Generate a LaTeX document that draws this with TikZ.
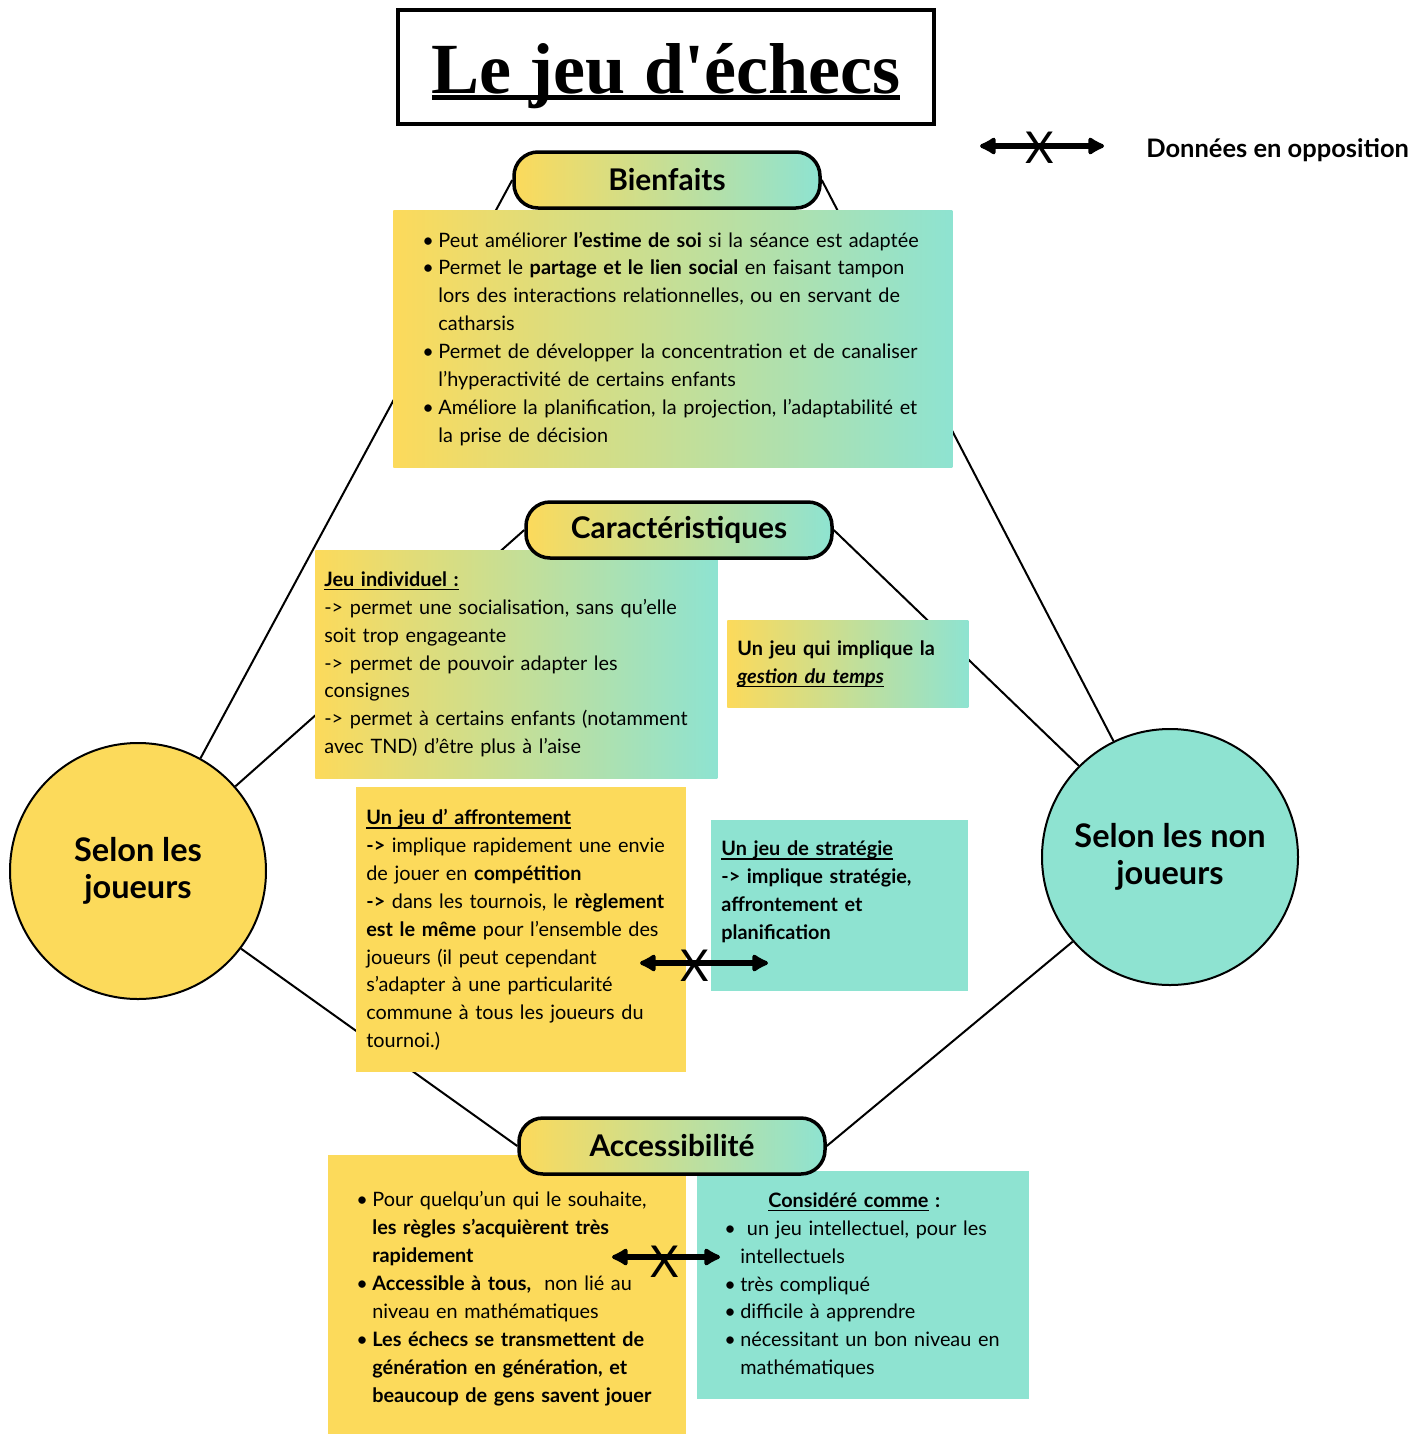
\documentclass[tikz,border=0pt]{standalone}
\usepackage{fontspec}
\setmainfont{Lato}
\newfontfamily\titrefonte{Liberation Serif}
\usetikzlibrary{arrows.meta,backgrounds}

\definecolor{jaune}{HTML}{FCDA5B}
\definecolor{turq}{HTML}{8EE3D1}

% 1 unite = 1 pixel de l'image
\newlength\pix
\setlength\pix{0.02cm}

\newsavebox\boitesoul
\newcommand{\trait}[3]{\sbox\boitesoul{#3}\rlap{\rule[\dimexpr-#1-#2\relax]{\wd\boitesoul}{#2}}\usebox\boitesoul}
\newcommand{\souligne}[1]{\trait{1.6pt}{.8pt}{#1}}
\newcommand{\puce}{\makebox[16\pix][l]{\textbullet}}
\newcommand{\suite}{\hspace*{16\pix}}

\tikzset{
  lien/.style={line width=2\pix},
  pilule/.style={draw, line width=3.5\pix, rounded corners=24\pix,
    minimum width=306\pix, minimum height=56\pix, inner sep=0pt,
    left color=jaune, right color=turq,
    font=\fontsize{17}{19}\selectfont\bfseries},
  bloc/.style={anchor=north west, inner ysep=0pt, align=left,
    font=\fontsize{11.3}{15.9}\selectfont},
  degrade/.style={left color=jaune, right color=turq},
  rond/.style={circle, draw, line width=2\pix, minimum size=256\pix,
    align=center, font=\fontsize{18.5}{21}\selectfont\bfseries},
  oppose/.style={line width=2.9pt,
    {Latex[length=11pt,width=12pt,round]}-{Latex[length=11pt,width=12pt,round]}},
  croix/.style={font=\fontsize{25}{25}\selectfont, inner sep=0pt}
}

\begin{document}
\begin{tikzpicture}[x=0.02cm, y=-0.02cm]
\useasboundingbox (0,0) rectangle (1427,1434);

% titre et legende
\node[draw, line width=3.5\pix, minimum width=536\pix, minimum height=114\pix, inner sep=0pt,
  text height=52\pix, text depth=0pt] (titre) at (666,67)
  {\titrefonte\bfseries\fontsize{41}{41}\selectfont\trait{1.2pt}{3pt}{Le jeu d'échecs}};

\coordinate (lg1) at (980,146);
\coordinate (lg2) at (1104,146);
\draw[oppose] (lg1) -- (lg2) node[croix, pos=.48, yshift=-2\pix] (lgx) {X};
\node[anchor=west, inner sep=0pt, font=\fontsize{14.5}{16}\selectfont\bfseries] (legende) at (1146,150) {Données en opposition};

% les deux points de vue
\node[rond, fill=jaune] (joueurs) at (138,871) {Selon les\\joueurs};
\node[rond, fill=turq] (nonjoueurs) at (1170,857) {Selon les non\\joueurs};

% Bienfaits
\node[bloc, degrade, inner xsep=29\pix, text width=501\pix, minimum height=257\pix] (bienfaits) at (393,210) {%
\puce Peut améliorer \textbf{l'estime de soi} si la séance est adaptée\\
\puce Permet le \textbf{partage et le lien social} en faisant tampon\\
\suite lors des interactions relationnelles, ou en servant de\\
\suite catharsis\\
\puce Permet de développer la concentration et de canaliser\\
\suite l'hyperactivité de certains enfants\\
\puce Améliore la planification, la projection, l'adaptabilité et\\
\suite la prise de décision};
\node[pilule] (bien) at (667,180) {Bienfaits};

% Caracteristiques
\node[bloc, degrade, inner xsep=9\pix, text width=384\pix, minimum height=228\pix] (individuel) at (315,550) {%
\textbf{\souligne{Jeu individuel :}}\\
-> permet une socialisation, sans qu'elle\\
soit trop engageante\\
-> permet de pouvoir adapter les\\
consignes\\
-> permet à certains enfants (notamment\\
avec TND) d'être plus à l'aise};
\node[bloc, degrade, inner xsep=10\pix, text width=221\pix, minimum height=87\pix] (temps) at (727,620) {%
\textbf{Un jeu qui implique la}\\
\textbf{\textit{\souligne{gestion du temps}}}};
\node[bloc, fill=jaune, inner xsep=10\pix, text width=310\pix, minimum height=285\pix] (affrontement) at (356,787) {%
\textbf{\souligne{Un jeu d' affrontement}}\\
\textbf{->} implique rapidement une envie\\
de jouer en \textbf{compétition}\\
\textbf{->} dans les tournois, le \textbf{règlement}\\
\textbf{est le même} pour l'ensemble des\\
joueurs (il peut cependant\\
s'adapter à une particularité\\
commune à tous les joueurs du\\
tournoi.)};
\node[bloc, fill=turq, inner xsep=10\pix, text width=237\pix, minimum height=171\pix] (strategie) at (711,820) {%
\textbf{\souligne{Un jeu de stratégie}}\\
\textbf{-> implique stratégie,}\\
\textbf{affrontement et}\\
\textbf{planification}\rule[-32\pix]{0pt}{32\pix}};
\node[pilule] (carac) at (679,530) {Caractéristiques};

\coordinate (op1) at (640,963);
\coordinate (op2) at (768,963);
\draw[oppose] (op1) -- (op2) node[croix, pos=.43, yshift=-3\pix] (opx) {X};

% Accessibilite
\node[bloc, fill=jaune, inner xsep=28\pix, inner ysep=36\pix, text width=302\pix] (facile) at (328,1155) {%
\puce Pour quelqu'un qui le souhaite,\\
\suite\textbf{les règles s'acquièrent très}\\
\suite\textbf{rapidement}\\
\puce\textbf{Accessible à tous,}\ \ non lié au\\
\suite niveau en mathématiques\\
\puce\textbf{Les échecs se transmettent de}\\
\suite\textbf{génération en génération, et}\\
\suite\textbf{beaucoup de gens savent jouer}\rule[-40\pix]{0pt}{40\pix}};
\node[bloc, fill=turq, inner xsep=27\pix, text width=278\pix, minimum height=228\pix] (difficile) at (697,1171) {%
\hspace*{44\pix}\textbf{\souligne{Considéré comme} :}\\
\puce\ un jeu intellectuel, pour les\\
\suite intellectuels\\
\puce très compliqué\\
\puce difficile à apprendre\\
\puce nécessitant un bon niveau en\\
\suite mathématiques};
\node[pilule] (acces) at (672,1146) {Accessibilité};

\coordinate (ac1) at (612,1257);
\coordinate (ac2) at (720,1257);
\draw[oppose] (ac1) -- (ac2) node[croix, pos=.49, yshift=-5\pix] (acx) {X};

% liens
\begin{scope}[on background layer]
\draw[lien] (joueurs.61.5) -- (bien.west);
\draw[lien] (nonjoueurs.116.8) -- (bien.east);
\draw[lien] (joueurs.41.6) -- (carac.west);
\draw[lien] (nonjoueurs.135.3) -- (carac.east);
\draw[lien] (joueurs.-37) -- (acces.west);
\draw[lien] (nonjoueurs.221) -- (acces.east);
\end{scope}

\end{tikzpicture}
\end{document}
